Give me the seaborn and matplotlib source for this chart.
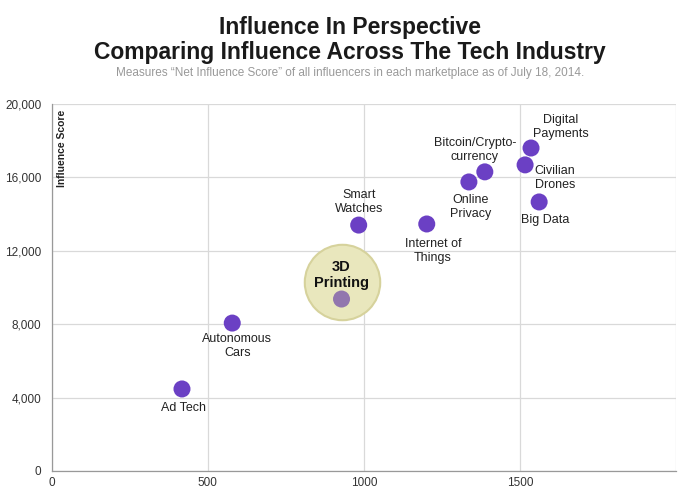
import numpy as np
import pandas as pd
import matplotlib.pyplot as plt
from matplotlib.transforms import offset_copy
import seaborn as sns

markets = ['Ad Tech', 'Autonomous\nCars', '3D Printing', 'Smart\nWatches', 'Internet of\nThings',
           'Online\nPrivacy', 'Bitcoin/Crypto-\ncurrency', 'Digital\nPayments', 'Civilian\nDrones', 'Big Data']
influencers = [417, 578, 928, 983, 1201, 1336, 1387, 1535, 1516, 1561]
score = [4470, 8060, 9370, 13400, 13460, 15750, 16300, 17600, 16680, 14660]

x_ticks = [0, 500, 1000, 1500]
y_ticks = [0, 4000, 8000, 12000, 16000, 20000]

# label offsets in pixels, (dx, dy)
offsets = [(2, -19), (5, -23), None, (0, 23), (6, -27), (2, -25), (-10, 22), (30, 21), (30, -13), (6, -18)]

df = pd.DataFrame({'market': markets, 'influencers': influencers, 'score': score})

sns.set_style('white')
plt.rcParams['font.family'] = ['Liberation Sans', 'DejaVu Sans']

fig = plt.figure(figsize=(7, 4.92), dpi=100)
ax = fig.add_axes([0.074, 0.0427, 0.892, 0.746])

ax.set_xlim(0, 2000)
ax.set_ylim(0, 20000)

# highlight bubble for 3D printing, shifted up a bit from its dot
i3d = markets.index('3D Printing')
bubble_tr = offset_copy(ax.transData, fig=fig, x=0, y=17, units='dots')
ax.scatter([influencers[i3d]], [score[i3d]], s=2950, color='#e9e7bd', edgecolor='#d6d29c',
           linewidth=1.5, transform=bubble_tr, zorder=2)

sns.scatterplot(data=df.drop(index=i3d), x='influencers', y='score', ax=ax, s=150, color='#6b40c4',
                edgecolor='none', zorder=3, legend=False)
# 3D printing dot is muted
ax.scatter([influencers[i3d]], [score[i3d]], s=150, color='#9276ae', edgecolor='none', zorder=4)

for name, xv, yv, off in zip(markets, influencers, score, offsets):
    if off is None:
        continue
    ax.annotate(name, (xv, yv), xytext=off, textcoords='offset pixels', ha='center', va='center',
                fontsize=9, color='#222222', linespacing=1.2, zorder=5)

ax.annotate('3D\nPrinting', (influencers[i3d], score[i3d]), xytext=(0, 24), textcoords='offset pixels',
            ha='center', va='center', fontsize=10.5, fontweight='bold', color='#111111',
            linespacing=1.1, zorder=5)

ax.set_xticks(x_ticks + [2000])
ax.set_xticklabels([str(t) for t in x_ticks] + [''])
ax.set_yticks(y_ticks)
ax.set_yticklabels([f'{t:,}' for t in y_ticks])
ax.grid(True, color='#d9d9d9', linewidth=0.9)
ax.set_axisbelow(True)
for side in ['top', 'right']:
    ax.spines[side].set_visible(False)
for side in ['left', 'bottom']:
    ax.spines[side].set_color('#999999')
    ax.spines[side].set_linewidth(0.9)
ax.tick_params(axis='both', labelsize=8.5, colors='#999999', labelcolor='#333333',
               length=4, width=0.8, direction='out')
ax.tick_params(axis='x', length=0, pad=4)
ax.set_xlabel('')
ax.set_ylabel('')

ax.text(0.008, 0.985, 'Influence Score', transform=ax.transAxes, rotation=90, ha='left', va='top',
        fontsize=7.5, fontweight='bold', color='#222222')

fig.text(0.5, 0.945, 'Influence In Perspective', ha='center', va='center', fontsize=16.5,
         fontweight='bold', color='#1a1a1a')
fig.text(0.5, 0.894, 'Comparing Influence Across The Tech Industry', ha='center', va='center', fontsize=16.5,
         fontweight='bold', color='#1a1a1a')
fig.text(0.5, 0.851, 'Measures \u201cNet Influence Score\u201d of all influencers in each marketplace as of July 18, 2014.',
         ha='center', va='center', fontsize=8.5, color='#999999')

plt.savefig('out.png', dpi=100)
